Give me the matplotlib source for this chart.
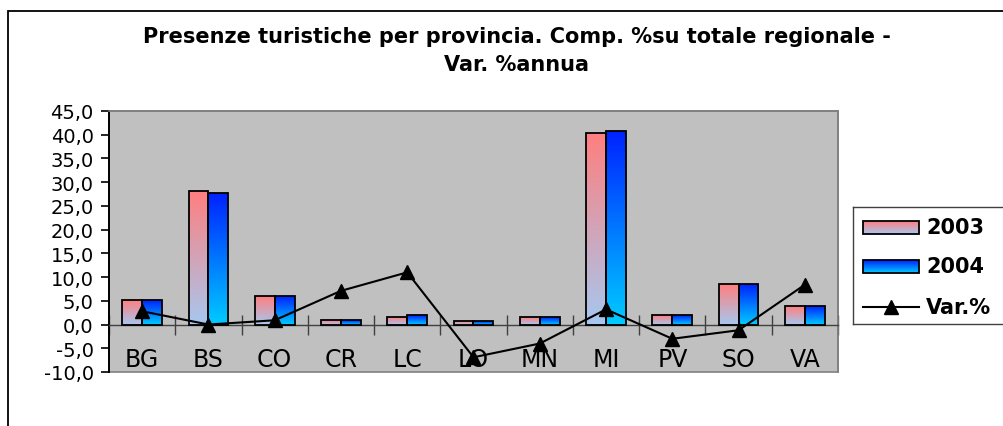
import numpy as np
import matplotlib
matplotlib.use("Agg")
import matplotlib.pyplot as plt
from matplotlib.patches import Rectangle
from matplotlib.lines import Line2D
from matplotlib.colors import LinearSegmentedColormap
from matplotlib.ticker import FuncFormatter, FixedLocator

# ---- data ----
categories = ["BG", "BS", "CO", "CR", "LC", "LO", "MN", "MI", "PV", "SO", "VA"]
val_2003 = [5.2, 28.2, 6.0, 0.9, 1.6, 0.8, 1.6, 40.4, 2.0, 8.6, 3.9]
val_2004 = [5.2, 27.8, 6.0, 0.9, 2.0, 0.8, 1.6, 40.8, 2.0, 8.6, 3.9]
var_pct = [2.8, 0.0, 0.9, 7.1, 11.0, -6.9, -4.0, 3.2, -3.0, -1.2, 8.4]
series_labels = ["2003", "2004", "Var.%"]
title = "Presenze turistiche per provincia. Comp. %su totale regionale -\nVar. %annua"
yticks = list(range(-10, 50, 5))

plt.rcParams['font.family'] = ['DejaVu Sans']

W, H = 1004, 427
fig = plt.figure(figsize=(W / 100, H / 100), dpi=100)

cmap03 = LinearSegmentedColormap.from_list("c03", ["#A6C8F0", "#FF7F7F"])
cmap04 = LinearSegmentedColormap.from_list("c04", ["#00CCFF", "#0022FF"])
grad = np.linspace(0, 1, 256).reshape(-1, 1)[::-1]

# outer chart frame
fig.patches.append(Rectangle((8 / W, -0.2), 1.2, (H - 11.5) / H + 0.2,
                             transform=fig.transFigure, fill=False,
                             edgecolor="black", linewidth=1.3))

ax = fig.add_axes([109 / W, (H - 373) / H, (838 - 109) / W, (373 - 112) / H])
ax.set_facecolor("#C0C0C0")

x = np.arange(len(categories))
bw = 0.30
bars03 = ax.bar(x - bw / 2, val_2003, bw, facecolor="none", edgecolor="black",
                linewidth=1.3, zorder=3)
bars04 = ax.bar(x + bw / 2, val_2004, bw, facecolor="none", edgecolor="black",
                linewidth=1.3, zorder=3)
for bars, cm in ((bars03, cmap03), (bars04, cmap04)):
    for b in bars:
        x0, y0 = b.get_x(), b.get_y()
        w, h = b.get_width(), b.get_height()
        im = ax.imshow(grad, cmap=cm, aspect="auto", extent=(x0, x0 + w, y0, y0 + h),
                       zorder=2, interpolation="bilinear")
        im.set_clip_path(b)

ax.plot(x, var_pct, color="black", linewidth=1.5, marker="^", markersize=10.5,
        zorder=5, clip_on=False)

ax.set_xlim(-0.5, len(categories) - 0.5)
ax.set_ylim(-10, 45)

# axes styling
for s in ("top", "right"):
    ax.spines[s].set_color("#808080")
    ax.spines[s].set_linewidth(1.2)
ax.spines["left"].set_color("black")
ax.spines["left"].set_linewidth(1.4)
ax.spines["bottom"].set_position(("data", 0))
ax.spines["bottom"].set_color("#404040")
ax.spines["bottom"].set_linewidth(1.0)
ax.spines["bottom"].set_zorder(2.5)
# bottom border of plot area
ax.add_patch(Rectangle((0, 0), 1, 1, transform=ax.transAxes, fill=False,
                       edgecolor="#808080", linewidth=1.2, zorder=1, clip_on=False))

ax.set_yticks(yticks)
ax.yaxis.set_major_formatter(FuncFormatter(lambda v, p: f"{v:.1f}".replace(".", ",")))
ax.tick_params(axis="y", direction="out", length=6, width=1.2, pad=5,
               labelsize=14, colors="black")

ax.set_xticks(x)
ax.set_xticklabels(categories)
ax.xaxis.set_minor_locator(FixedLocator(np.arange(-0.5, len(categories), 1.0)))
ax.tick_params(axis="x", which="major", length=0, pad=16, labelsize=17)
ax.tick_params(axis="x", which="minor", direction="inout", length=14, width=1.0,
               color="#404040")

fig.text(517 / W, (H - 51) / H, title, ha="center", va="center",
         fontsize=15, fontweight="bold", linespacing=1.45)

# legend (manually drawn with gradient handles)
lx0, ly0, ly1 = 853, 208, 325
lw = 200
lax = fig.add_axes([lx0 / W, (H - ly1) / H, lw / W, (ly1 - ly0) / H])
lax.set_xticks([])
lax.set_yticks([])
for s in lax.spines.values():
    s.set_color("#404040")
    s.set_linewidth(1.0)
rows = [228 - ly0, 267 - ly0, 308 - ly0]
for cm, yy in ((cmap03, rows[0]), (cmap04, rows[1])):
    r = Rectangle((10, yy - 6.5), 56, 13, facecolor="none", edgecolor="black",
                  linewidth=1.3, zorder=3)
    lax.add_patch(r)
    im = lax.imshow(grad, cmap=cm, aspect="auto", extent=(10, 66, yy + 6.5, yy - 6.5), zorder=2)
    im.set_clip_path(r)
lax.add_line(Line2D([10, 66], [rows[2], rows[2]], color="black", linewidth=1.5))
lax.plot([38], [rows[2]], marker="^", color="black", markersize=10.5, linestyle="none")
lax.set_xlim(0, lw)
lax.set_ylim(ly1 - ly0, 0)
for lab, yy in zip(series_labels, rows):
    lax.text(73, yy, lab, ha="left", va="center", fontsize=15, fontweight="bold")

fig.savefig("out.png", dpi=100)
